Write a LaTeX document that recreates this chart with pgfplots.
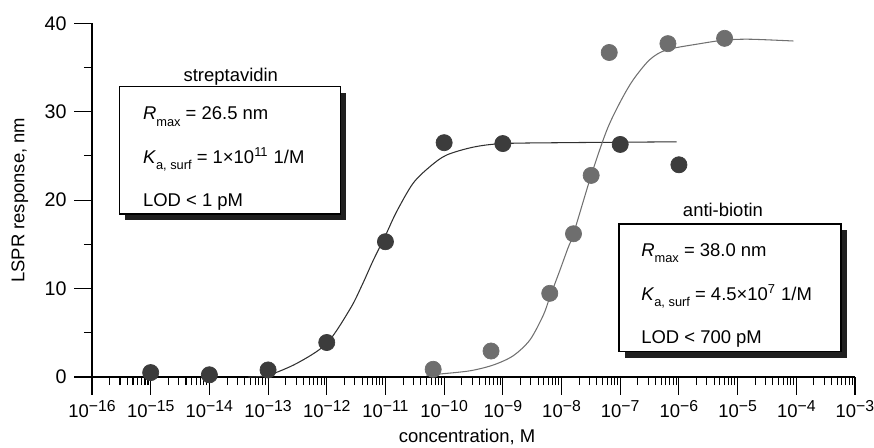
\documentclass[border=0pt]{standalone}
\usepackage{fontspec}
\setmainfont{Liberation Sans}
\usepackage{pgfplots}
\pgfplotsset{compat=1.18}

\definecolor{strep}{HTML}{3C3C3C}
\definecolor{anti}{HTML}{6E6E6E}
\definecolor{strepline}{HTML}{303030}
\definecolor{antiline}{HTML}{707070}
\newcommand\fs{\fontsize{10.5}{12.6}\selectfont}
\newcommand\dec[1]{10\raisebox{0.32em}{\fontsize{9}{10}\selectfont −#1}}
\newcommand\sub[1]{\raisebox{-0.36em}{\fontsize{7.3}{8}\selectfont #1}}

% minor ticks 2..9 in every decade
\def\minorlist{2e-16}
\foreach \ee in {-16,...,-4}{\foreach \mm in {2,...,9}{\xdef\minorlist{\minorlist,\mm e\ee}}}

\begin{document}
\begin{tikzpicture}
\begin{semilogxaxis}[
  at={(0,0)}, anchor=south west,
  scale only axis, width=15.26cm, height=7.074cm,
  xmin=1e-16, xmax=1e-3, ymin=0, ymax=40,
  axis x line=bottom, axis y line=left,
  axis line style={-, line width=0.6pt},
  x axis line style={line width=1.1pt},
  tick align=outside,
  major tick length=0.35cm, minor tick length=0.16cm,
  every tick/.style={black, line width=0.6pt},
  xtick={1e-16,1e-15,1e-14,1e-13,1e-12,1e-11,1e-10,1e-9,1e-8,1e-7,1e-6,1e-5,1e-4,1e-3},
  xticklabels={\dec{16},\dec{15},\dec{14},\dec{13},\dec{12},\dec{11},\dec{10},\dec{9},\dec{8},\dec{7},\dec{6},\dec{5},\dec{4},\dec{3}},
  minor xtick/.expanded={\minorlist},
  ytick={0,10,20,30,40}, yticklabels={0,10,20,30,40},
  minor ytick={5,15,25,35},
  xticklabel style={font=\fs},
  yticklabel style={font=\fontsize{11.2}{13}\selectfont, xshift=-1pt},
  label style={font=\fs},
  xlabel={concentration, M},
  ylabel={LSPR response, nm},
  xlabel style={at={(axis description cs:0.4915,-0.17)}, anchor=center},
  ylabel style={at={(axis description cs:-0.0944,0.5)}, anchor=center},
  clip=false,
]
% fitted curves
\addplot[strepline, line width=0.6pt, smooth] coordinates {
  (4.6e-14,0) (1e-13,0.2) (3.1e-13,1.55) (1e-12,3.8) (2.5e-12,7.7) (4.0e-12,10.4)
  (6.2e-12,13.2) (1e-11,16.0) (1.55e-11,18.7) (2.95e-11,21.9) (5.75e-11,23.8)
  (1.1e-10,25.1) (3.16e-10,26.0) (1e-9,26.4) (1e-8,26.5) (1e-7,26.55) (9.1e-7,26.6)};
\addplot[antiline, line width=0.6pt, smooth] coordinates {
  (5.0e-11,0.2) (8.5e-11,0.34) (2.75e-10,0.7) (6.9e-10,1.36) (1.5e-9,2.4) (2.9e-9,4.2)
  (4.9e-9,7.0) (6.3e-9,9.0) (9.3e-9,12.0) (1.29e-8,14.6) (1.6e-8,16.2) (3.2e-8,22.8)
  (5.9e-8,27.9) (1e-7,31.1) (1.66e-7,33.6) (3.2e-7,35.9) (6.2e-7,37.0) (2.3e-6,37.7)
  (6.0e-6,38.1) (1.6e-5,38.2) (8.9e-5,38.0)};
% measured points
\addplot[only marks, mark=*, mark size=4.6pt, mark options={fill=strep, draw=strep}] coordinates {
  (1e-15,0.5) (1e-14,0.25) (1e-13,0.8) (1e-12,3.9) (1e-11,15.3)
  (1e-10,26.5) (1e-9,26.4) (1e-7,26.3) (1e-6,24.0)};
\addplot[only marks, mark=*, mark size=4.6pt, mark options={fill=anti, draw=anti}] coordinates {
  (6.5e-11,0.87) (6.3e-10,2.94) (6.3e-9,9.46) (1.6e-8,16.2) (3.2e-8,22.8)
  (6.5e-8,36.7) (6.5e-7,37.7) (6.0e-6,38.3)};
\end{semilogxaxis}
% streptavidin box
\fill[black!88] (0.656,3.14) rectangle (5.084,5.686);
\draw[fill=white, line width=0.6pt] (0.546,3.26) rectangle (4.974,5.806);
\node[font=\fs, anchor=base, inner sep=0] at (2.776,5.906) {streptavidin};
\node[font=\fs, anchor=base west, inner sep=0] at (1.014,5.14) {\textit{R}\sub{max} = 26.5 nm};
\node[font=\fs, anchor=base west, inner sep=0] at (1.014,4.273) {\textit{K}\sub{a, surf} = 1×10\textsuperscript{11} 1/M};
\node[font=\fs, anchor=base west, inner sep=0] at (1.014,3.406) {LOD < 1 pM};
% anti-biotin box
\fill[black!88] (10.65,0.386) rectangle (15.09,2.94);
\draw[fill=white, line width=0.6pt] (10.54,0.506) rectangle (14.98,3.06);
\node[font=\fs, anchor=base, inner sep=0] at (12.62,3.206) {anti-biotin};
\node[font=\fs, anchor=base west, inner sep=0] at (10.98,2.42) {\textit{R}\sub{max} = 38.0 nm};
\node[font=\fs, anchor=base west, inner sep=0] at (10.98,1.54) {\textit{K}\sub{a, surf} = 4.5×10\textsuperscript{7} 1/M};
\node[font=\fs, anchor=base west, inner sep=0] at (10.98,0.674) {LOD < 700 pM};
\pgfresetboundingbox
\path (-1.84,-1.40) rectangle (15.64,7.54);
\end{tikzpicture}
\end{document}
